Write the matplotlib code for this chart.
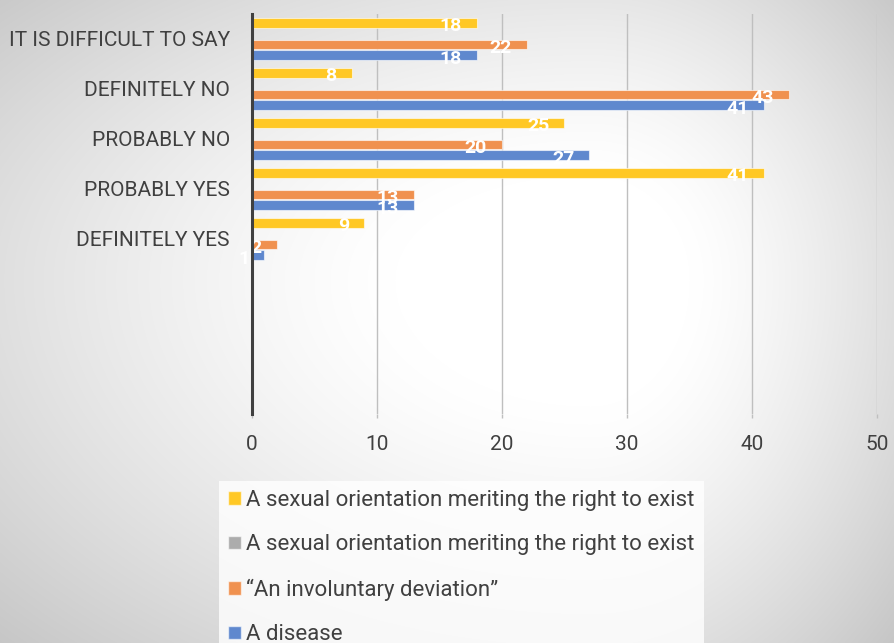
import matplotlib
matplotlib.use('Agg')
import matplotlib.pyplot as plt
from matplotlib.patches import Patch
import numpy as np

# Survey answers, top to bottom as shown in the chart
categories = ['IT IS DIFFICULT TO SAY', 'DEFINITELY NO', 'PROBABLY NO',
              'PROBABLY YES', 'DEFINITELY YES']
right_to_exist = [18, 8, 25, 41, 9]          # yellow
right_to_exist_2 = [0, 0, 0, 0, 0]           # gray (empty series)
involuntary_deviation = [22, 43, 20, 13, 2]  # orange
disease = [18, 41, 27, 13, 1]                # blue

series_names = ['A sexual orientation meriting the right to exist',
                'A sexual orientation meriting the right to exist',
                '\u201cAn involuntary deviation\u201d',
                'A disease']
series_values = [right_to_exist, right_to_exist_2, involuntary_deviation, disease]
colors = ['#FFC825', '#ACACAC', '#F0914F', '#5F88CE']
x_ticks = [0, 10, 20, 30, 40, 50]

FONT = ['Roboto', 'DejaVu Sans']
TEXT = '#404040'
plt.rcParams['font.family'] = FONT

W, H = 894, 643
fig = plt.figure(figsize=(W / 100, H / 100), dpi=100)

# background: soft off-centre gradient, white in the middle, gray at the edges
bg = fig.add_axes([0, 0, 1, 1], zorder=-10)
yy, xx = np.mgrid[0:H, 0:W]
cx, cy = 590, 280
dx = np.where(xx > cx, (xx - cx) / 330, (cx - xx) / 650)
dy = np.where(yy > cy, (yy - cy) / 420, (cy - yy) / 350)
r = np.sqrt(dx ** 2 + dy ** 2)
shade = (255 - 60 * np.clip(r - 0.3, 0, None) ** 1.3) / 255
shade = np.clip(shade, 0.76, 1)
bg.imshow(np.dstack([shade] * 3), aspect='auto', extent=[0, 1, 0, 1])
bg.axis('off')

ax = fig.add_axes([252 / W, 1 - 414 / H, 625 / W, 400 / H])
ax.set_facecolor('none')

n_slots = 8
centers = np.arange(n_slots - 1, n_slots - 1 - len(categories), -1)
step = 0.214
height = 0.186
offsets = [1.5 * step, 0.5 * step, -0.5 * step, -1.5 * step]

for vals, col, off, name in zip(series_values, colors, offsets, series_names):
    bars = ax.barh(centers + off, vals, height=height, color=col,
                   edgecolor=(1, 1, 1, 0.6), linewidth=0.8, label=name, zorder=3)
    if col == '#ACACAC':
        continue
    for b, v in zip(bars, vals):
        ax.annotate(str(v), xy=(v, b.get_y() + b.get_height() / 2),
                    xytext=(-11, -2.5), textcoords='offset points',
                    ha='right', va='center', color='white', fontsize=14,
                    fontweight='bold', zorder=5, family=FONT)

ax.set_xlim(0, 50)
ax.set_ylim(-0.5, n_slots - 0.5)
ax.set_xticks(x_ticks)
ax.set_xticklabels([str(t) for t in x_ticks])
ax.set_yticks(centers)
ax.set_yticklabels(categories)
ax.tick_params(axis='y', length=0, pad=16, labelsize=15, labelcolor=TEXT)
ax.tick_params(axis='x', length=3, width=1, color='#BFBFBF', pad=12,
               labelsize=15, labelcolor=TEXT)
ax.grid(axis='x', color='#BFBFBF', linewidth=1, zorder=0)
for s in ['top', 'right', 'bottom']:
    ax.spines[s].set_visible(False)
ax.spines['left'].set_color('#404040')
ax.spines['left'].set_linewidth(2.2)
ax.spines['left'].set_zorder(6)

handles = [Patch(facecolor=c, edgecolor=(1, 1, 1, 0.6)) for c in colors]
leg = fig.legend(handles, series_names, loc='upper left',
                 bbox_to_anchor=(208 / W, 1 - 470 / H), frameon=True,
                 fancybox=False, handlelength=0.58, handleheight=0.58,
                 handletextpad=0.25, labelspacing=1.05, borderpad=0.4,
                 prop={'family': FONT, 'size': 16}, labelcolor=TEXT)
leg.get_frame().set_facecolor((1, 1, 1, 0.25))
leg.get_frame().set_edgecolor('none')

fig.savefig('out.png', dpi=100)
